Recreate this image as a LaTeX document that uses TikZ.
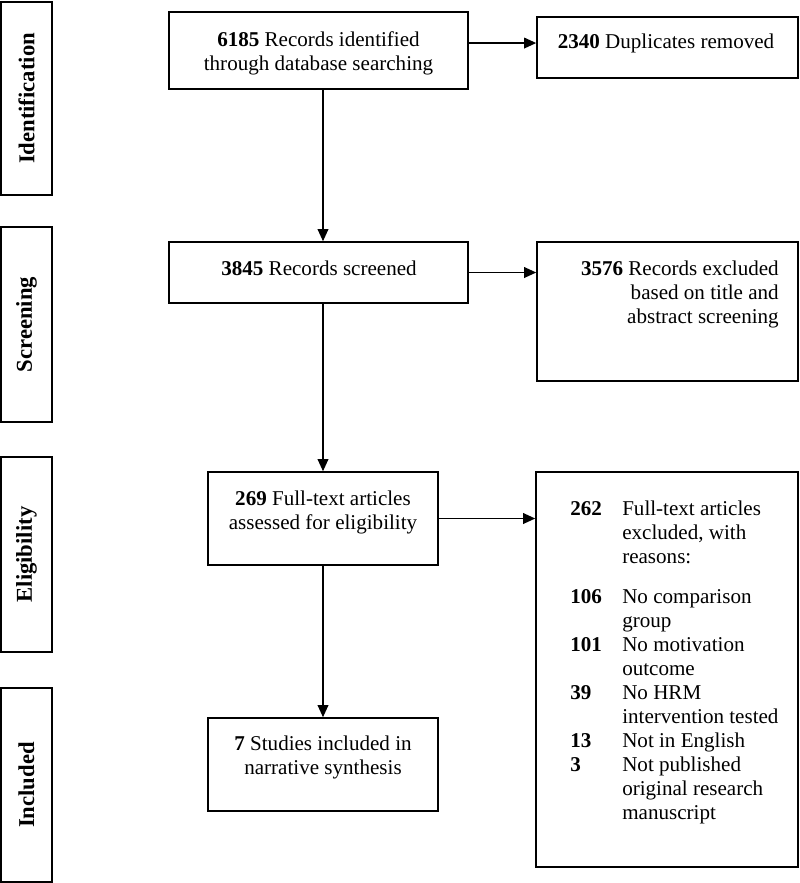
\documentclass[tikz,border=0pt]{standalone}
\usepackage{fontspec}
\setmainfont{Liberation Serif}
\usetikzlibrary{arrows.meta,fit}
\tikzset{>={Triangle[length=9pt,width=8pt]}}
\tikzset{
    box/.style={draw, line width=1.2pt, inner sep=0pt},
    txt/.style={inner sep=0pt, align=center, font=\fontsize{15.8pt}{18pt}\selectfont},
    phase/.style={inner sep=0pt, rotate=90, font=\fontsize{17pt}{20pt}\selectfont\bfseries},
    flow/.style={->, line width=1pt}
}

\begin{document}
\begin{tikzpicture}[x=.75pt, y=-.75pt]
    \useasboundingbox(0, 0) rectangle (800, 883);
    \node[box, fit={(1, 2) (52, 195)}](ident){};
    \node[box, fit={(1, 227) (52, 422)}](screen){};
    \node[box, fit={(1, 457) (52, 652)}](elig){};
    \node[box, fit={(1, 688) (52, 882)}](incl){};
    \node[phase](identT) at (ident){Identification};
    \node[phase](screenT) at (screen){Screening};
    \node[phase](eligT) at (elig){Eligibility};
    \node[phase](inclT) at (incl){Included};
    \node[box, fit={(169, 12) (468, 89)}](rec){};
    \node[txt](recT) at (318.5, 53){\textbf{6185} Records identified\\through database searching};
    \node[box, fit={(537, 17) (798, 78)}](dup){};
    \node[txt](dupT) at (666, 43){\textbf{2340} Duplicates removed};
    \node[box, fit={(169, 242) (468, 303)}](scr){};
    \node[txt](scrT) at (319, 268){\textbf{3845} Records screened};
    \node[box, fit={(537, 242) (798, 381)}](excl){};
    \node[txt, anchor=east, align=right](exclT) at (779, 294){\textbf{3576} Records excluded\\based on title and\\abstract screening};
    \node[box, fit={(208, 472) (438, 565)}](full){};
    \node[txt](fullT) at (323, 512){\textbf{269} Full-text articles\\assessed for eligibility};
    \node[box, fit={(536, 472) (798, 867)}](fullex){};
    \node[txt, anchor=north west](fullexT) at (570, 498){\begin{tabular}{@{}p{39pt}@{}l@{}}
        \textbf{262} & Full-text articles\\
        & excluded, with\\
        & reasons:\\[12pt]
        \textbf{106} & No comparison\\
        & group\\
        \textbf{101} & No motivation\\
        & outcome\\
        \textbf{39} & No HRM\\
        & intervention tested\\
        \textbf{13} & Not in English\\
        \textbf{3} & Not published\\
        & original research\\
        & manuscript
    \end{tabular}};
    \node[box, fit={(208, 718) (438, 811)}](stud){};
    \node[txt](studT) at (323, 757){\textbf{7} Studies included in\\narrative synthesis};
    \draw[flow]([yshift=5.6pt]rec.east) coordinate(recE)--(recE -| dup.west);
    \draw[flow](rec.south -| full.north)--(scr.north -| full.north);
    \draw[flow](scr.east)--(scr.east -| excl.west);
    \draw[flow](scr.south -| full.north)--(full.north);
    \draw[flow](full.east)--(full.east -| fullex.west);
    \draw[flow](full)--(stud);
\end{tikzpicture}
\end{document}
